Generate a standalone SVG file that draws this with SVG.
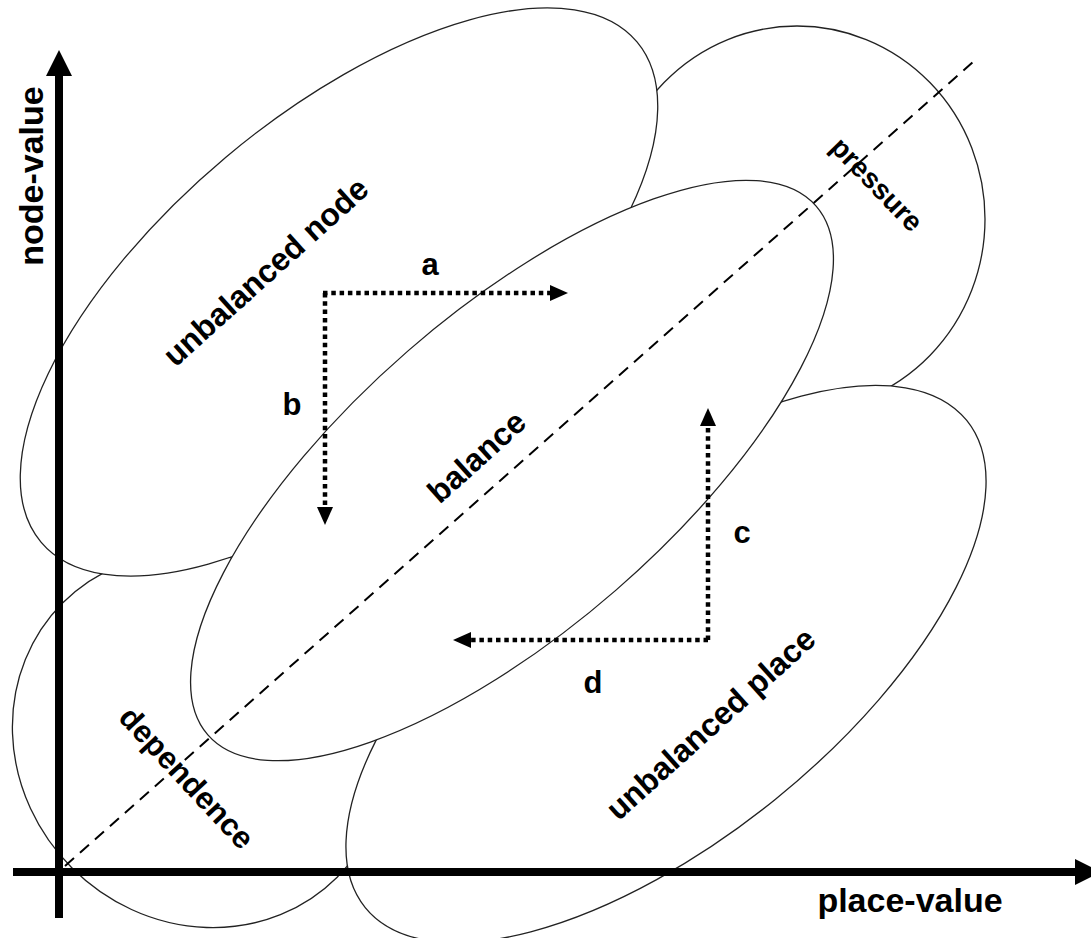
<svg xmlns="http://www.w3.org/2000/svg" width="1091" height="938" viewBox="0 0 1091 938">
<style>
.ell{fill:#fff;stroke:#222;stroke-width:1.3}
.lbl{font-family:"Liberation Sans",Arial,sans-serif;font-weight:bold;fill:#000;text-anchor:middle}
.dot{fill:none;stroke:#000;stroke-width:4.5;stroke-dasharray:4.5 3.8}
.dash{fill:none;stroke:#000;stroke-width:2;stroke-dasharray:12 8}
.axis{fill:none;stroke:#000;stroke-width:8}
</style>
<defs>
<marker id="ah" viewBox="0 0 18 16" refX="0" refY="8" markerWidth="18" markerHeight="16" markerUnits="userSpaceOnUse" orient="auto"><path d="M0,0 L18,8 L0,16 z" fill="#000"/></marker>
<marker id="axh" viewBox="0 0 26 26" refX="0" refY="13" markerWidth="26" markerHeight="26" markerUnits="userSpaceOnUse" orient="auto"><path d="M0,0 L26,13 L0,26 z" fill="#000"/></marker>
</defs>
<rect width="1091" height="938" fill="#fff"/>
<g id="pressure">
<ellipse class="ell" cx="797" cy="219" rx="188" ry="193"/>
<text class="lbl" font-size="28" transform="translate(870,191) rotate(46)">pressure</text>
</g>
<g id="dependence">
<ellipse class="ell" cx="200" cy="740" rx="194" ry="181" transform="rotate(45 200 740)"/>
<text class="lbl" font-size="31" transform="translate(179,785) rotate(47)">dependence</text>
</g>
<g id="unbalanced-node">
<ellipse class="ell" cx="339" cy="292" rx="389" ry="176" transform="rotate(-40 339 292)"/>
<text class="lbl" font-size="32" transform="translate(273,280) rotate(-42)">unbalanced node</text>
</g>
<g id="unbalanced-place">
<ellipse class="ell" cx="666" cy="664" rx="387" ry="174" transform="rotate(-39 666 664)"/>
<text class="lbl" font-size="32" transform="translate(718,732) rotate(-42)">unbalanced place</text>
</g>
<g id="balance">
<ellipse class="ell" cx="512" cy="470.5" rx="403" ry="158.5" transform="rotate(-41 512 470.5)"/>
<text class="lbl" font-size="32" transform="translate(484,465) rotate(-42)">balance</text>
</g>
<g id="connectors">
<line class="dash" x1="65" y1="866" x2="973" y2="62"/>
<line class="dot" x1="323" y1="293" x2="550" y2="293" marker-end="url(#ah)"/>
<line class="dot" x1="325" y1="293" x2="325" y2="507" marker-end="url(#ah)"/>
<line class="dot" x1="708" y1="640" x2="708" y2="426" marker-end="url(#ah)"/>
<line class="dot" x1="708" y1="640" x2="471" y2="640" marker-end="url(#ah)"/>
<text class="lbl" font-size="31" x="430" y="275">a</text>
<text class="lbl" font-size="31" x="292" y="415">b</text>
<text class="lbl" font-size="31" x="742" y="543">c</text>
<text class="lbl" font-size="31" x="593" y="693">d</text>
</g>
<g id="axes">
<line class="axis" x1="59" y1="918" x2="59" y2="76" marker-end="url(#axh)"/>
<line class="axis" x1="13" y1="872" x2="1075" y2="872" marker-end="url(#axh)"/>
<text class="lbl" font-size="34" transform="translate(43,176) rotate(-90)">node-value</text>
<text class="lbl" font-size="34" x="910" y="912">place-value</text>
</g>
</svg>
